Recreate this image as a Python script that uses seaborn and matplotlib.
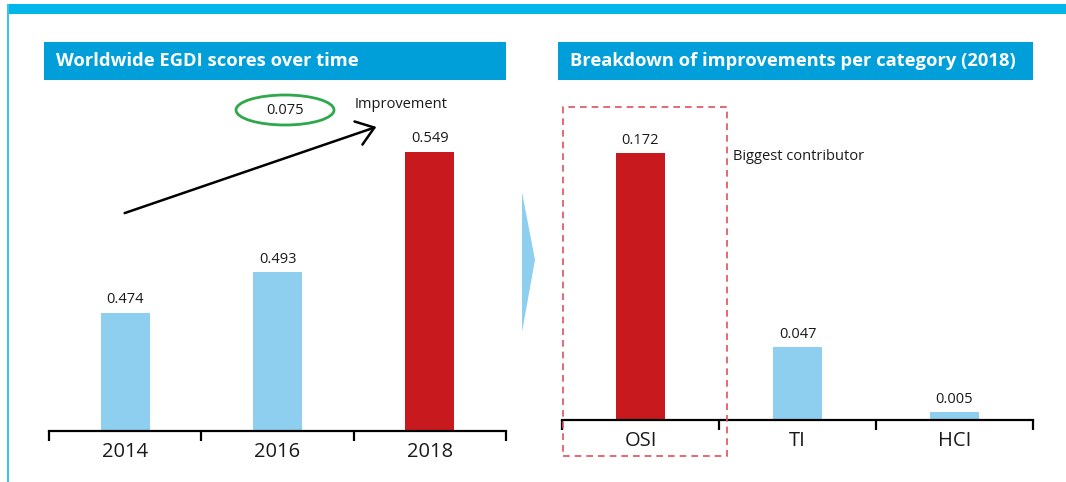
import matplotlib
matplotlib.use("Agg")
import matplotlib.pyplot as plt
from matplotlib.patches import Rectangle, Ellipse, Polygon, FancyArrowPatch
from matplotlib.ticker import FixedLocator, NullFormatter
import seaborn as sns

# ---- data ----
years = ["2014", "2016", "2018"]
egdi_scores = [0.474, 0.493, 0.549]
categories = ["OSI", "TI", "HCI"]
improvements = [0.172, 0.047, 0.005]
overall_gain = "0.075"

# ---- style ----
LIGHT_BLUE = "#8ECFF0"
RED = "#C8191E"
BANNER = "#009FDA"
CYAN = "#00B6EA"
GREEN = "#2EA84B"
DASH_RED = "#E0505A"

sns.set_style("white")
plt.rcParams["font.family"] = ["Open Sans", "DejaVu Sans"]

W, H = 1066, 482
fig = plt.figure(figsize=(W / 100, H / 100), dpi=100)


def fx(px):
    return px / W


def fy(py):
    return 1 - py / H


def axes_px(left, top, right, bottom):
    return fig.add_axes([fx(left), fy(bottom), fx(right) - fx(left), fy(top) - fy(bottom)])


def style_axis(ax, labels):
    n = len(labels)
    ax.set_xlim(-0.5, n - 0.5)
    for side in ("left", "top", "right"):
        ax.spines[side].set_visible(False)
    ax.spines["bottom"].set_linewidth(1.6)
    ax.spines["bottom"].set_color("black")
    ax.set_yticks([])
    ax.set_ylabel("")
    ax.set_xlabel("")
    ax.xaxis.set_major_locator(FixedLocator([i - 0.5 for i in range(n + 1)]))
    ax.xaxis.set_major_formatter(NullFormatter())
    ax.xaxis.set_minor_locator(FixedLocator(list(range(n))))
    ax.set_xticklabels(labels, minor=True)
    ax.tick_params(axis="x", which="major", direction="out", length=7.5, width=1.6,
                   color="black", bottom=True)
    ax.tick_params(axis="x", which="minor", length=0, pad=8, labelsize=14.5,
                   labelcolor="#1a1a1a")
    ax.patch.set_alpha(0)


def label_bars(ax, values):
    for i, v in enumerate(values):
        ax.annotate(f"{v:.3f}", xy=(i, v), xytext=(0, 4), textcoords="offset points",
                    ha="center", va="bottom", fontsize=10.5, color="#1a1a1a")


# ---- left panel: EGDI over time ----
ax1 = axes_px(49, 100, 506, 431)
sns.barplot(x=years, y=egdi_scores, hue=years,
            palette=[LIGHT_BLUE, LIGHT_BLUE, RED], legend=False,
            width=0.32, saturation=1, linewidth=0, ax=ax1)
ax1.set_ylim(0.419, 0.5732)
style_axis(ax1, years)
label_bars(ax1, egdi_scores)

# ---- right panel: breakdown per category ----
ax2 = axes_px(562, 100, 1033, 420)
sns.barplot(x=categories, y=improvements, hue=categories,
            palette=[RED, LIGHT_BLUE, LIGHT_BLUE], legend=False,
            width=0.31, saturation=1, linewidth=0, ax=ax2)
ax2.set_ylim(0, 0.2065)
style_axis(ax2, categories)
label_bars(ax2, improvements)

# ---- frame decorations ----
fig.add_artist(Rectangle((fx(7), fy(14)), fx(W) - fx(7), fy(4) - fy(14),
                         transform=fig.transFigure, color=CYAN, lw=0, zorder=0))
fig.add_artist(Rectangle((fx(7), 0), fx(1.6), fy(4),
                         transform=fig.transFigure, color="#3CC3EE", lw=0, zorder=0))

# title banners
for left, right, title in [(44, 506, "Worldwide EGDI scores over time"),
                           (558, 1033, "Breakdown of improvements per category (2018)")]:
    fig.add_artist(Rectangle((fx(left), fy(80)), fx(right) - fx(left), fy(42) - fy(80),
                             transform=fig.transFigure, color=BANNER, lw=0))
    fig.text(fx(left + 12), fy(61), title, color="white", fontsize=13.2,
             fontweight="bold", ha="left", va="center")

# chevron between panels
fig.add_artist(Polygon([(fx(522), fy(192)), (fx(535), fy(260)), (fx(522), fy(332))],
                       closed=True, transform=fig.transFigure, color=LIGHT_BLUE, lw=0))

# improvement arrow with highlighted gain
fig.add_artist(FancyArrowPatch((fx(122), fy(214)), (fx(379), fy(126)),
                               transform=fig.transFigure, arrowstyle="->,head_length=0.55,head_width=0.4",
                               mutation_scale=22, lw=1.8, color="black"))
fig.add_artist(Ellipse((fx(285), fy(110)), fx(98), 30 / H, transform=fig.transFigure,
                       fill=False, edgecolor=GREEN, lw=2))
fig.text(fx(285), fy(110), overall_gain, ha="center", va="center", fontsize=10.5,
         color="#1a1a1a")
fig.text(fx(355), fy(105), "Improvement", ha="left", va="center", fontsize=10.5,
         color="#1a1a1a")

# highlight box around the biggest contributor
fig.add_artist(Rectangle((fx(563), fy(456)), fx(727) - fx(563), fy(107) - fy(456),
                         transform=fig.transFigure, fill=False, edgecolor=DASH_RED,
                         lw=1.2, linestyle=(0, (4, 3))))
fig.text(fx(733), fy(156), "Biggest contributor", ha="left", va="center",
         fontsize=10.5, color="#1a1a1a")

fig.savefig("out.png", dpi=100)
